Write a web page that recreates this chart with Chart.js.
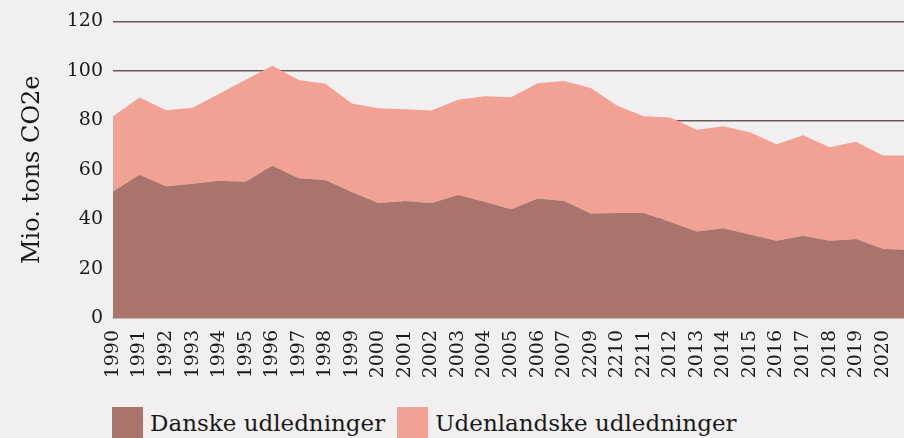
<!DOCTYPE html>
<html>
<head>
<meta charset="utf-8">
<script src="https://cdn.jsdelivr.net/npm/chart.js@4/dist/chart.umd.min.js"></script>
<style>
  html, body { margin: 0; padding: 0; background: #f1eff0; overflow: hidden; }
  #wrap { position: relative; width: 904px; height: 438px; overflow: hidden; }
  #box { position: absolute; left: 0; top: 0; width: 936px; height: 400px; }
  #legend { position: absolute; left: 112px; top: 407px; display: flex;
            font-family: "DejaVu Serif", serif; font-size: 23px; color: #1a1a1a; }
  .item { display: flex; align-items: center; margin-right: 12px; }
  .swatch { width: 31px; height: 31px; margin-right: 7px; }
</style>
</head>
<body>
<div id="wrap">
  <div id="box"><canvas id="chart"></canvas></div>
  <div id="legend"></div>
</div>
<script>
// the last point has no visible label (cut off at the right edge)
const years = ["1990", "1991", "1992", "1993", "1994", "1995", "1996", "1997", "1998", "1999",
  "2000", "2001", "2002", "2003", "2004", "2005", "2006", "2007", "2209", "2210",
  "2211", "2012", "2013", "2014", "2015", "2016", "2017", "2018", "2019", "2020", ""];

const danske = [51.2, 58.0, 53.3, 54.3, 55.5, 55.1, 61.6, 56.5, 55.8, 51.0,
  46.5, 47.3, 46.5, 49.8, 47.0, 44.0, 48.3, 47.3, 42.3, 42.5,
  42.5, 38.8, 35.0, 36.3, 33.8, 31.3, 33.3, 31.3, 32.0, 28.0, 27.5];

const udenlandske = [30.4, 31.2, 30.8, 30.8, 35.2, 41.3, 40.5, 39.8, 39.0, 35.8,
  38.4, 37.2, 37.5, 38.5, 42.7, 45.3, 46.7, 48.6, 50.8, 43.4,
  39.1, 42.3, 41.2, 41.3, 41.4, 39.0, 40.6, 37.8, 39.3, 37.7, 38.2];

const seriesNames = ["Danske udledninger", "Udenlandske udledninger"];
const seriesColors = ["#a8746c", "#f2a195"];
const yTicks = [0, 20, 40, 60, 80, 100, 120];

const font = "DejaVu Serif";
const textColor = "#1a1a1a";

new Chart(document.getElementById("chart"), {
  type: "line",
  data: {
    labels: years,
    datasets: [
      {
        label: seriesNames[0],
        data: danske,
        backgroundColor: seriesColors[0],
        borderWidth: 0,
        pointRadius: 0,
        fill: "origin"
      },
      {
        label: seriesNames[1],
        data: udenlandske,
        backgroundColor: seriesColors[1],
        borderWidth: 0,
        pointRadius: 0,
        fill: "-1"
      }
    ]
  },
  options: {
    responsive: true,
    maintainAspectRatio: false,
    animation: false,
    layout: { padding: { top: 8, right: 0, bottom: 0, left: 0 } },
    plugins: {
      legend: { display: false },
      tooltip: { enabled: false }
    },
    scales: {
      x: {
        offset: false,
        grid: { display: false },
        border: { display: true, color: "#d2cdcd", width: 1.5 },
        ticks: {
          autoSkip: false,
          minRotation: 90,
          maxRotation: 90,
          padding: 4,
          color: textColor,
          font: { family: font, size: 19 }
        },
        afterFit: scale => { scale.height = 82; }
      },
      y: {
        stacked: true,
        min: 0,
        max: 120,
        afterBuildTicks: scale => { scale.ticks = yTicks.map(v => ({ value: v })); },
        grid: { color: "#6e5757", lineWidth: 1.5, drawTicks: false },
        border: { display: false },
        ticks: {
          padding: 10,
          color: textColor,
          font: { family: font, size: 19 }
        },
        title: {
          display: true,
          text: "Mio. tons CO2e",
          color: textColor,
          font: { family: font, size: 24 },
          padding: { top: 18, bottom: 10 }
        },
        afterFit: scale => { scale.width = 113; }
      }
    }
  }
});

const legend = document.getElementById("legend");
seriesNames.forEach((name, i) => {
  const item = document.createElement("div");
  item.className = "item";
  item.innerHTML = `<span class="swatch" style="background:${seriesColors[i]}"></span><span>${name}</span>`;
  legend.appendChild(item);
});
</script>
</body>
</html>
